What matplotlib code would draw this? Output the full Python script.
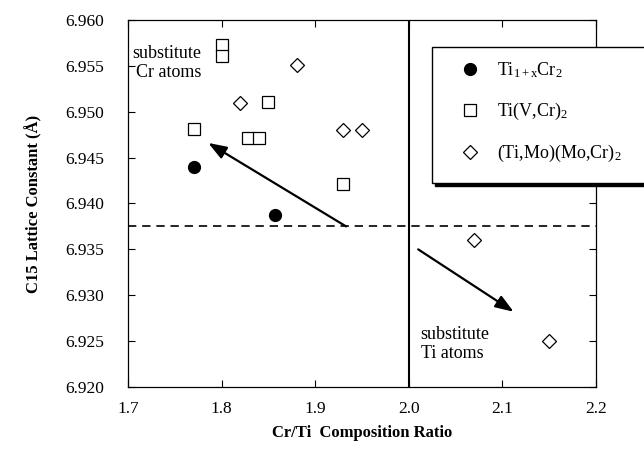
import matplotlib
matplotlib.use("Agg")
import matplotlib.pyplot as plt
from matplotlib.patches import Rectangle

plt.rcParams['font.family'] = ['Liberation Serif', 'DejaVu Serif']
plt.rcParams['mathtext.fontset'] = 'custom'
plt.rcParams['mathtext.rm'] = 'Liberation Serif'
plt.rcParams['mathtext.it'] = 'Liberation Serif:italic'
plt.rcParams['mathtext.bf'] = 'Liberation Serif:bold'

# Data
ti_cr_x = [1.77, 1.857]
ti_cr_y = [6.944, 6.9388]
tivcr_x = [1.80, 1.80, 1.77, 1.85, 1.828, 1.840, 1.93]
tivcr_y = [6.9573, 6.9561, 6.9481, 6.9511, 6.9471, 6.9471, 6.9421]
timo_x = [1.88, 1.82, 1.93, 1.95, 2.07, 2.15]
timo_y = [6.9551, 6.951, 6.948, 6.948, 6.936, 6.925]
ref_y = 6.9375
ref_x = 2.0
xticks = [1.7, 1.8, 1.9, 2.0, 2.1, 2.2]
yticks = [6.920, 6.925, 6.930, 6.935, 6.940, 6.945, 6.950, 6.955, 6.960]

fig = plt.figure(figsize=(6.44, 4.5), dpi=100)
ax = fig.add_axes([0.1988, 0.14, 0.7267, 0.8156])

ax.plot(ti_cr_x, ti_cr_y, 'o', color='black', markersize=8.5, linestyle='none',
        label=r'Ti$_\mathregular{1+x}$Cr$_\mathregular{2}$', zorder=3)
ax.plot(tivcr_x, tivcr_y, 's', markerfacecolor='white', markeredgecolor='black',
        markeredgewidth=0.9, markersize=8.3, linestyle='none',
        label=r'Ti(V,Cr)$_\mathregular{2}$', zorder=3)
ax.plot(timo_x, timo_y, 'D', markerfacecolor='white', markeredgecolor='black',
        markeredgewidth=0.9, markersize=7.5, linestyle='none',
        label=r'(Ti,Mo)(Mo,Cr)$_\mathregular{2}$', zorder=3)

ax.axhline(ref_y, color='black', linestyle=(0, (5, 3.5)), linewidth=1.2, zorder=2)
ax.axvline(ref_x, color='black', linewidth=1.5, zorder=2)

astyle = '-|>,head_length=1.1,head_width=0.4'
ax.annotate('', xy=(1.7857, 6.9466), xytext=(1.933, 6.9375),
            arrowprops=dict(arrowstyle=astyle, color='black', lw=1.6,
                            shrinkA=0, shrinkB=0))
ax.annotate('', xy=(2.112, 6.9282), xytext=(2.010, 6.935),
            arrowprops=dict(arrowstyle=astyle, color='black', lw=1.6,
                            shrinkA=0, shrinkB=0))

ax.text(1.778, 6.9553, 'substitute\nCr atoms', ha='right', va='center',
        multialignment='right', fontsize=13, linespacing=1.15)
ax.text(2.0125, 6.9247, 'substitute\nTi atoms', ha='left', va='center',
        fontsize=13, linespacing=1.15)

ax.set_xlim(1.7, 2.2)
ax.set_ylim(6.920, 6.960)
ax.set_xticks(xticks)
ax.set_xticklabels([f'{v:.1f}' for v in xticks])
ax.set_yticks(yticks)
ax.set_yticklabels([f'{v:.3f}' for v in yticks])
ax.tick_params(direction='in', top=True, right=True, length=5, width=0.8,
               labelsize=12.5)
ax.tick_params(axis='y', pad=17)
ax.tick_params(axis='x', pad=10)
for s in ax.spines.values():
    s.set_linewidth(0.9)

ax.set_xlabel('Cr/Ti  Composition Ratio', fontsize=12, fontweight='bold', labelpad=6)
ax.set_ylabel('C15 Lattice Constant (Å)', fontsize=12, fontweight='bold', labelpad=17)

# legend box with hard shadow, running past the right edge
W, H = 644.0, 450.0
bx0, bx1, by0, by1 = 432, 680, 47, 183
sh = 3
fig.patches.append(Rectangle(((bx0 + sh) / W, 1 - (by1 + sh) / H), (bx1 - bx0) / W,
                             (by1 - by0) / H, transform=fig.transFigure,
                             facecolor='black', edgecolor='black', zorder=5))
fig.patches.append(Rectangle((bx0 / W, 1 - by1 / H), (bx1 - bx0) / W,
                             (by1 - by0) / H, transform=fig.transFigure,
                             facecolor='white', edgecolor='black', linewidth=1.0,
                             zorder=6))
leg = fig.legend(loc='center left', bbox_to_anchor=(456.5 / W, 1 - 112.5 / H),
                 fontsize=13, frameon=False, borderpad=0, labelspacing=1.15,
                 handletextpad=0.75, borderaxespad=0, handlelength=1.5)
leg.set_zorder(7)

fig.savefig('out.png', dpi=100)
